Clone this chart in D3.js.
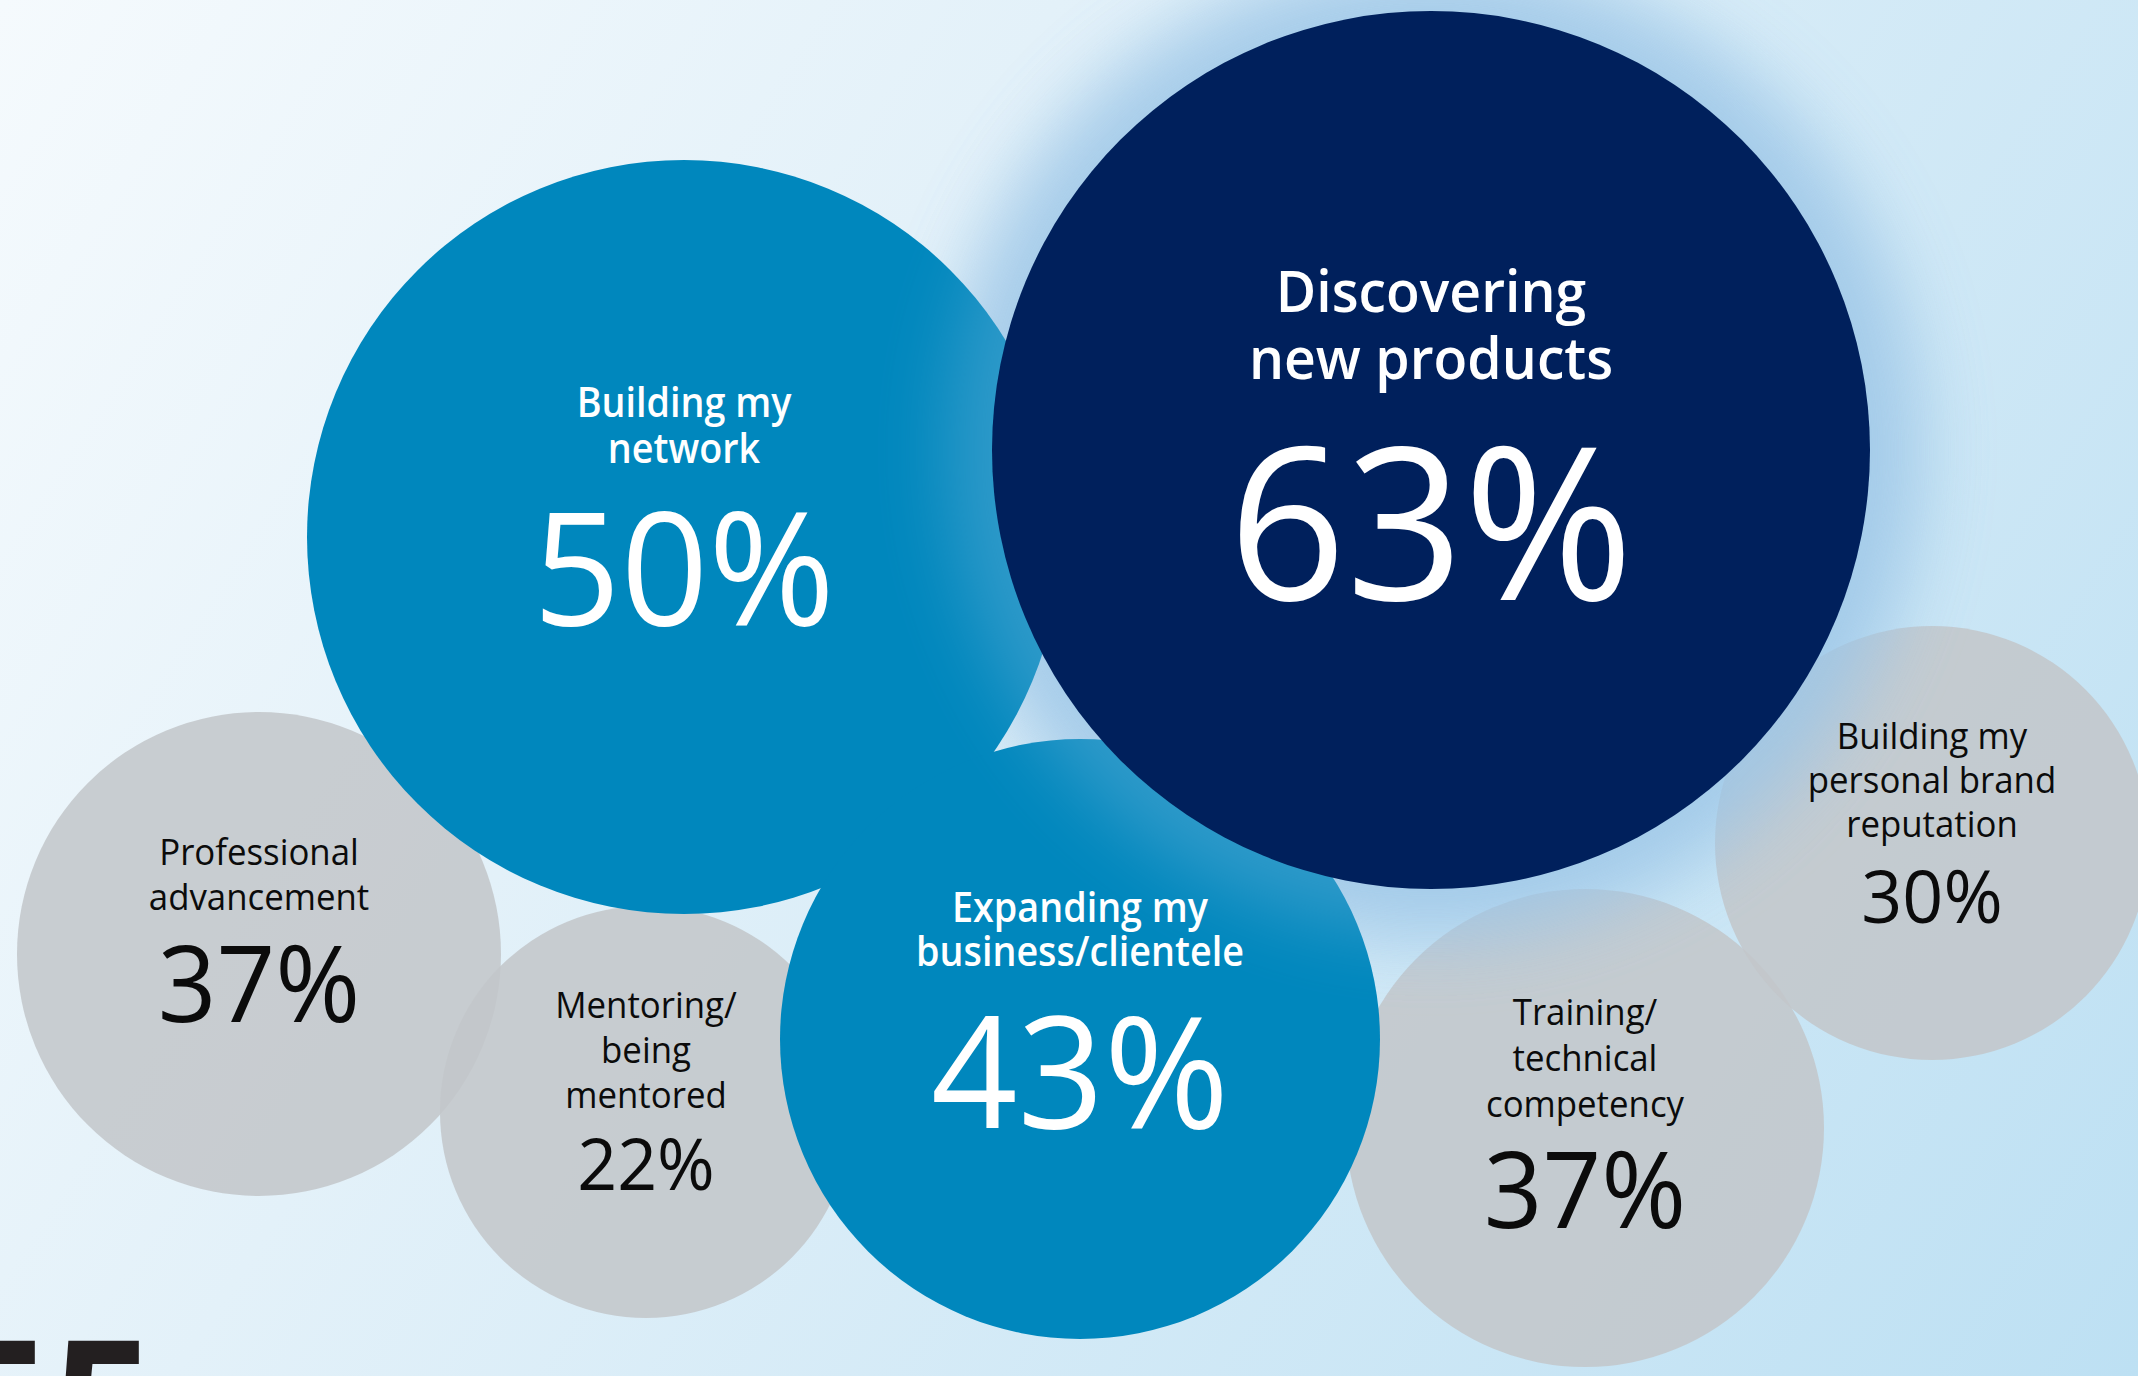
<!DOCTYPE html>
<html>
<head>
<meta charset="utf-8">
<script src="https://cdn.jsdelivr.net/npm/d3@7"></script>
<style>
  html, body { margin: 0; padding: 0; overflow: hidden; background: #e4f2f9; }
  svg { display: block; }
</style>
</head>
<body>
<div id="chart"></div>
<script>
// Survey answers: share of respondents naming each benefit
const categories = [
  "Discovering new products",
  "Building my network",
  "Expanding my business/clientele",
  "Professional advancement",
  "Mentoring/being mentored",
  "Training/technical competency",
  "Building my personal brand reputation"
];
const labelLines = [
  ["Discovering", "new products"],
  ["Building my", "network"],
  ["Expanding my", "business/clientele"],
  ["Professional", "advancement"],
  ["Mentoring/", "being", "mentored"],
  ["Training/", "technical", "competency"],
  ["Building my", "personal brand", "reputation"]
];
const shares = [63, 50, 43, 37, 22, 37, 30];
const tiers = ["lead", "major", "major", "minor", "minor", "minor", "minor"];
const footerFigure = "55";

// Hand-arranged bubble cluster on a 2138 x 1376 artboard
const bubbleLayout = [
  { cx: 1431, cy: 450,  r: 439, label: 57, gap: 67, first: -138, num: 212, numY: 150 },
  { cx: 684,  cy: 537,  r: 377, label: 41, gap: 46, first: -120, num: 158, numY: 88 },
  { cx: 1080, cy: 1039, r: 300, label: 41, gap: 44, first: -117, num: 156, numY: 89 },
  { cx: 259,  cy: 954,  r: 242, label: 37, gap: 45, first: -89,  num: 106, numY: 68 },
  { cx: 646,  cy: 1112, r: 206, label: 37, gap: 45, first: -94,  num: 72,  numY: 78 },
  { cx: 1585, cy: 1128, r: 239, label: 37, gap: 46, first: -103, num: 106, numY: 100 },
  { cx: 1932, cy: 843,  r: 217, label: 37, gap: 44, first: -94,  num: 74,  numY: 80 }
];

const tierStyle = {
  lead:  { fill: "#00205c", text: "#ffffff", labelWeight: 600, numWeight: 400, opacity: 1, labelCondense: 0.97 },
  major: { fill: "#0087bd", text: "#ffffff", labelWeight: 600, numWeight: 400, opacity: 1, labelCondense: 0.92 },
  minor: { fill: "#c3c6c9", text: "#0b0b0b", labelWeight: 400, numWeight: 400, opacity: 0.86, labelCondense: 0.94 }
};

const W = 2138, H = 1376;
const ART_W = 2138, ART_H = 1376;
const x = d3.scaleLinear().domain([0, ART_W]).range([0, W]);
const y = d3.scaleLinear().domain([0, ART_H]).range([0, H]);
const k = d3.scaleLinear().domain([0, ART_W]).range([0, W]); // lengths
const NUMBER_CONDENSE = 0.97;
const FONT = "'Open Sans', 'Noto Sans', sans-serif";

const data = categories.map((c, i) => ({
  category: c, lines: labelLines[i], value: shares[i], tier: tiers[i], ...bubbleLayout[i]
}));

const svg = d3.select("#chart").append("svg")
  .attr("width", W).attr("height", H)
  .attr("viewBox", `0 0 ${W} ${H}`);

const defs = svg.append("defs");
const bg = defs.append("linearGradient").attr("id", "bgGrad")
  .attr("gradientUnits", "userSpaceOnUse")
  .attr("x1", 0).attr("y1", 0).attr("x2", W).attr("y2", H);
bg.append("stop").attr("offset", 0).attr("stop-color", "#f5fafd");
bg.append("stop").attr("offset", 0.35).attr("stop-color", "#e3f1f9");
bg.append("stop").attr("offset", 1).attr("stop-color", "#bde0f3");

defs.append("filter").attr("id", "glowBlur")
  .attr("x", "-50%").attr("y", "-50%").attr("width", "200%").attr("height", "200%")
  .append("feGaussianBlur").attr("stdDeviation", 38);

svg.append("rect").attr("width", W).attr("height", H).attr("fill", "url(#bgGrad)");

const lead = data.find(d => d.tier === "lead");

// grey bubbles first, then the halo round the lead bubble, then blue bubbles
const minor = data.filter(d => d.tier === "minor");
const major = data.filter(d => d.tier === "major");

svg.append("g").selectAll("circle").data(minor).join("circle")
  .attr("cx", d => x(d.cx)).attr("cy", d => y(d.cy)).attr("r", d => k(d.r))
  .attr("fill", d => tierStyle[d.tier].fill)
  .attr("fill-opacity", d => tierStyle[d.tier].opacity);

function halo(opacity) {
  svg.append("circle")
    .attr("cx", x(lead.cx)).attr("cy", y(lead.cy)).attr("r", k(lead.r + 45))
    .attr("fill", "#9cc6e7").attr("opacity", opacity)
    .attr("filter", "url(#glowBlur)");
}
halo(0.8);

svg.append("g").selectAll("circle").data(major).join("circle")
  .attr("cx", d => x(d.cx)).attr("cy", d => y(d.cy)).attr("r", d => k(d.r))
  .attr("fill", d => tierStyle[d.tier].fill);

halo(0.3);

svg.append("circle")
  .attr("cx", x(lead.cx)).attr("cy", y(lead.cy)).attr("r", k(lead.r))
  .attr("fill", tierStyle.lead.fill);

// labels and percentages: one text block per bubble
const pct = d3.format(".0%");
const blocks = svg.append("g").selectAll("g").data(data).join("g")
  .attr("transform", d => `translate(${x(d.cx)},${y(d.cy)})`)
  .attr("font-family", FONT)
  .attr("text-anchor", "middle")
  .attr("fill", d => tierStyle[d.tier].text);

function condense(sel, factor) {
  sel.each(function () {
    const w = this.getComputedTextLength();
    d3.select(this).attr("textLength", w * factor)
      .attr("lengthAdjust", "spacingAndGlyphs");
  });
}

blocks.each(function (d) {
  const st = tierStyle[d.tier];
  const t = d3.select(this).append("text");
  d.lines.forEach((line, j) => {
    t.append("tspan")
      .attr("x", 0)
      .attr("y", k(d.first + j * d.gap))
      .attr("font-size", k(d.label))
      .attr("font-weight", st.labelWeight)
      .text(line)
      .call(condense, st.labelCondense);
  });
  t.append("tspan")
    .attr("x", 0)
    .attr("y", k(d.numY))
    .attr("font-size", k(d.num))
    .attr("font-weight", st.numWeight)
    .text(pct(d.value / 100))
    .call(condense, NUMBER_CONDENSE);
});

// large figure of the next panel, cropped by the lower edge
svg.append("text")
  .attr("x", x(-52)).attr("y", y(1470))
  .attr("font-family", FONT).attr("font-weight", 700)
  .attr("font-size", k(182)).attr("fill", "#231f20")
  .text(footerFigure);
</script>
</body>
</html>
